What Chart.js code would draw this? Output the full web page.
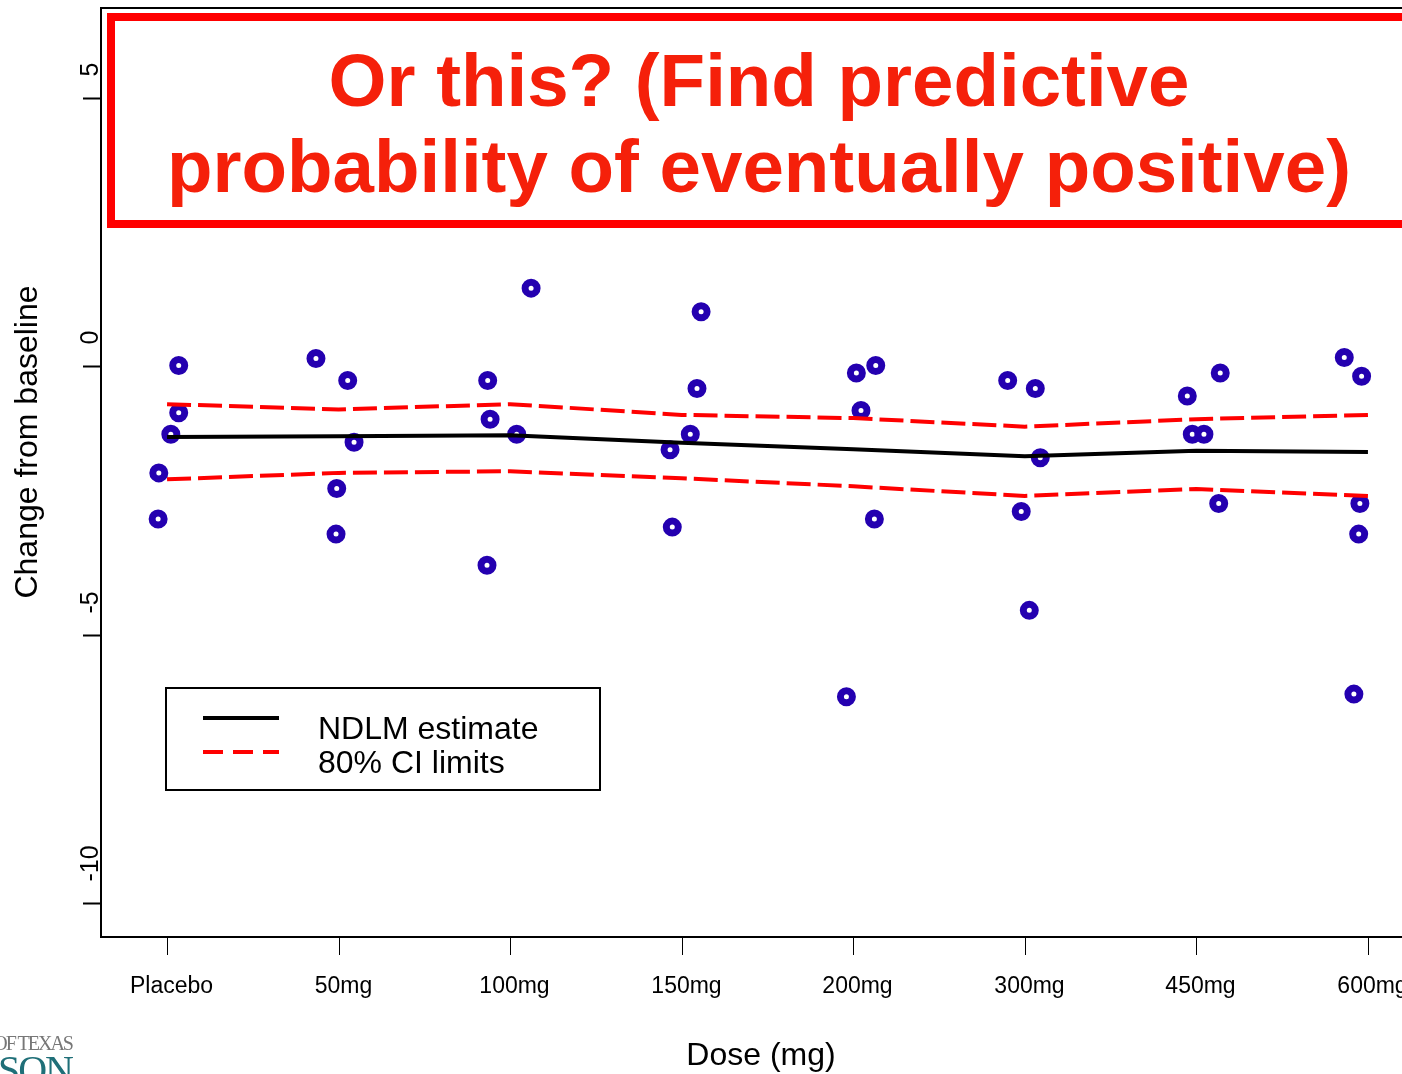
<!DOCTYPE html>
<html>
<head>
<meta charset="utf-8">
<script src="https://cdn.jsdelivr.net/npm/chart.js@4.4.1/dist/chart.umd.min.js"></script>
<style>
  body { margin: 0; background: #fff; overflow: hidden; width: 1402px; height: 1074px; position: relative; }
  #wrap { position: absolute; left: 0; top: 0; width: 1450px; height: 1074px; }
  .logo1 { position: absolute; right: 1330px; top: 1032px; font: 20px "Liberation Serif", serif; color: #777; letter-spacing: -2px; white-space: nowrap; }
  .logo2 { position: absolute; right: 1330px; top: 1046px; font: 40px "Liberation Serif", serif; color: #1f6f78; letter-spacing: -2px; white-space: nowrap; }
</style>
</head>
<body>
<div id="wrap"><canvas id="chart" width="1450" height="1074"></canvas></div>
<div class="logo1">OF TEXAS</div>
<div class="logo2">ANDERSON</div>
<script>
const doses = ["Placebo", "50mg", "100mg", "150mg", "200mg", "300mg", "450mg", "600mg"];
const yTicks = [5, 0, -5, -10];

// NDLM fit and 80% interval, one value per dose
const estimate = [-1.32, -1.31, -1.29, -1.43, -1.55, -1.68, -1.58, -1.60];
const ciUpper = [-0.71, -0.81, -0.71, -0.91, -0.97, -1.13, -0.99, -0.91];
const ciLower = [-2.11, -1.99, -1.96, -2.09, -2.24, -2.42, -2.29, -2.42];

// observed patients (x is dose position with jitter)
const pointX = [
  1.068, 1.068, 1.022, 0.952, 0.948,
  1.868, 2.053, 2.090, 1.989, 1.985,
  3.122, 2.869, 2.883, 3.038, 2.865,
  4.113, 4.089, 4.050, 3.932, 3.945,
  5.018, 5.131, 5.045, 5.123, 4.960,
  5.900, 6.061, 6.090, 5.979, 6.026,
  6.947, 7.139, 6.976, 7.044, 7.130,
  7.862, 7.963, 7.953, 7.946, 7.918
];
const pointY = [
  0.01, -0.87, -1.27, -1.99, -2.85,
  0.14, -0.27, -1.42, -2.28, -3.13,
  1.45, -0.27, -0.99, -1.27, -3.71,
  1.01, -0.42, -1.27, -1.56, -3.00,
  -0.13, 0.01, -0.83, -2.85, -6.16,
  -0.27, -0.42, -1.71, -2.71, -4.55,
  -0.56, -0.13, -1.27, -1.27, -2.56,
  0.16, -0.19, -2.56, -3.13, -6.11
];

const titleLines = ["Or this? (Find predictive", "probability of eventually positive)"];
const legendLabels = ["NDLM estimate", "80% CI limits"];
const xTitle = "Dose (mg)";
const yTitle = "Change from baseline";

const FONT = '"Liberation Sans", Arial, sans-serif';
const RED = "#ff0000";
const BLUE = "#2400b0";

const byDose = (arr) => arr.map((y, i) => ({ x: i + 1, y: y }));

const decor = {
  id: "decor",
  afterDraw(chart) {
    const ctx = chart.ctx;
    const a = chart.chartArea;
    const xs = chart.scales.x;
    const ys = chart.scales.y;
    ctx.save();

    // plot frame
    ctx.strokeStyle = "#000";
    ctx.lineWidth = 2;
    ctx.strokeRect(a.left, a.top, a.right - a.left, a.bottom - a.top);

    // x axis ticks + labels
    ctx.lineWidth = 1;
    ctx.fillStyle = "#000";
    ctx.font = "23px " + FONT;
    ctx.textAlign = "center";
    ctx.textBaseline = "middle";
    doses.forEach((d, i) => {
      const px = Math.round(xs.getPixelForValue(i + 1)) + 0.5;
      ctx.beginPath();
      ctx.moveTo(px, a.bottom + 1);
      ctx.lineTo(px, a.bottom + 18);
      ctx.stroke();
      ctx.fillText(d, px + 4, 987);
    });

    // y axis ticks + rotated labels
    ctx.font = "25px " + FONT;
    ctx.textAlign = "left";
    ctx.textBaseline = "alphabetic";
    yTicks.forEach((v) => {
      const py = Math.round(ys.getPixelForValue(v)) + 0.5;
      ctx.lineWidth = 2;
      ctx.beginPath();
      ctx.moveTo(a.left - 18, py);
      ctx.lineTo(a.left, py);
      ctx.stroke();
      ctx.save();
      ctx.translate(98, py - 22);
      ctx.rotate(-Math.PI / 2);
      ctx.fillText(String(v), 0, 0);
      ctx.restore();
    });

    // axis titles
    ctx.font = "32px " + FONT;
    ctx.textAlign = "center";
    ctx.textBaseline = "middle";
    ctx.fillText(xTitle, 761, 1056);
    ctx.save();
    ctx.translate(28, 442);
    ctx.rotate(-Math.PI / 2);
    ctx.fillText(yTitle, 0, 0);
    ctx.restore();

    // red callout box
    ctx.fillStyle = "#fff";
    ctx.fillRect(111, 17, 1400, 207);
    ctx.strokeStyle = RED;
    ctx.lineWidth = 8;
    ctx.strokeRect(111, 17, 1400, 207);
    ctx.fillStyle = "#f5200a";
    ctx.font = "bold 74.5px " + FONT;
    ctx.textAlign = "center";
    ctx.textBaseline = "alphabetic";
    ctx.fillText(titleLines[0], 759, 106);
    ctx.fillText(titleLines[1], 759, 192);

    // legend
    ctx.strokeStyle = "#000";
    ctx.lineWidth = 2;
    ctx.fillStyle = "#fff";
    ctx.fillRect(166, 688, 434, 102);
    ctx.strokeRect(166, 688, 434, 102);
    ctx.lineWidth = 4;
    ctx.beginPath();
    ctx.moveTo(203, 718);
    ctx.lineTo(279, 718);
    ctx.stroke();
    ctx.strokeStyle = RED;
    ctx.setLineDash([20, 10]);
    ctx.beginPath();
    ctx.moveTo(203, 752);
    ctx.lineTo(279, 752);
    ctx.stroke();
    ctx.setLineDash([]);
    ctx.fillStyle = "#000";
    ctx.font = "32px " + FONT;
    ctx.textAlign = "left";
    ctx.fillText(legendLabels[0], 318, 739);
    ctx.fillText(legendLabels[1], 318, 773);

    ctx.restore();
  }
};

const lineStyle = {
  showLine: true,
  pointRadius: 0,
  borderWidth: 4,
  tension: 0,
  fill: false,
  order: 1
};

new Chart(document.getElementById("chart").getContext("2d"), {
  type: "scatter",
  data: {
    datasets: [
      Object.assign({ label: legendLabels[0], data: byDose(estimate), borderColor: "#000" }, lineStyle),
      Object.assign({ label: "upper", data: byDose(ciUpper), borderColor: RED, borderDash: [24, 7] }, lineStyle),
      Object.assign({ label: "lower", data: byDose(ciLower), borderColor: RED, borderDash: [24, 7] }, lineStyle),
      {
        label: "patients",
        data: pointX.map((x, i) => ({ x: x, y: pointY[i] })),
        pointStyle: "circle",
        pointRadius: 6,
        borderWidth: 7,
        borderColor: BLUE,
        backgroundColor: "#fff",
        order: 2
      }
    ]
  },
  options: {
    responsive: false,
    animation: false,
    events: [],
    layout: { autoPadding: false, padding: { left: 101, top: 8, right: 16, bottom: 137 } },
    plugins: { legend: { display: false }, tooltip: { enabled: false } },
    scales: {
      x: { type: "linear", min: 0.615, max: 8.385, display: false },
      y: { type: "linear", min: -10.633, max: 6.667, display: false }
    }
  },
  plugins: [decor]
});
</script>
</body>
</html>
